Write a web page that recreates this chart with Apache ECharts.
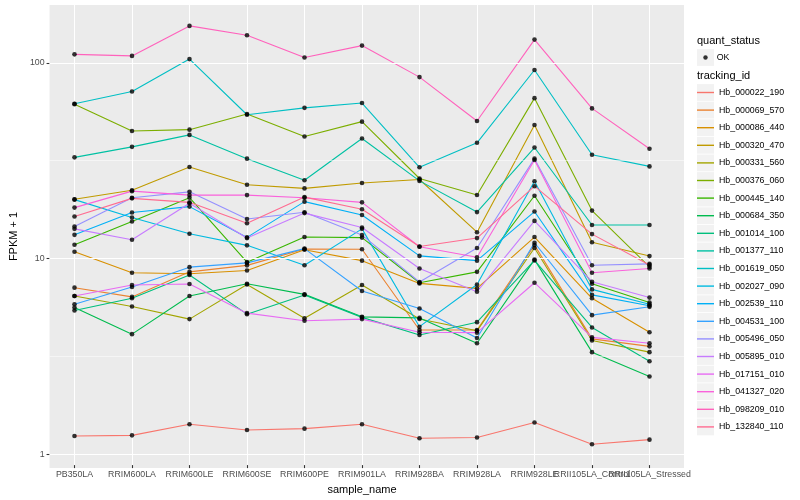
<!DOCTYPE html>
<html><head><meta charset="utf-8">
<script src="https://cdn.jsdelivr.net/npm/echarts@6/dist/echarts.min.js"></script>
<style>html,body{margin:0;padding:0;background:#fff}#c{width:800px;height:500px}</style>
</head><body><div id="c"></div>
<script>
// ---------------- data ----------------
const categories = ['PB350LA','RRIM600LA','RRIM600LE','RRIM600SE','RRIM600PE','RRIM901LA','RRIM928BA','RRIM928LA','RRIM928LE','RRII105LA_Control','RRII105LA_Stressed'];
const trackingIds = ['Hb_000022_190','Hb_000069_570','Hb_000086_440','Hb_000320_470','Hb_000331_560','Hb_000376_060','Hb_000445_140','Hb_000684_350','Hb_001014_100','Hb_001377_110','Hb_001619_050','Hb_002027_090','Hb_002539_110','Hb_004531_100','Hb_005496_050','Hb_005895_010','Hb_017151_010','Hb_041327_020','Hb_098209_010','Hb_132840_110'];
const Hb_000022_190 = [1.20, 1.21, 1.38, 1.29, 1.31, 1.38, 1.17, 1.18, 1.41, 1.09, 1.15];
const Hb_000069_570 = [6.95, 6.23, 8.38, 9.05, 10.98, 10.95, 4.21, 4.21, 11.5, 3.79, 3.47];
const Hb_000086_440 = [10.64, 8.29, 8.19, 8.51, 10.89, 9.57, 7.31, 6.89, 12.65, 6.13, 4.10];
const Hb_000320_470 = [19.8, 22.0, 29.0, 23.5, 22.5, 24.0, 25.0, 13.4, 47.7, 11.9, 10.1];
const Hb_000331_560 = [6.30, 5.56, 4.79, 7.22, 4.84, 7.17, 4.80, 4.17, 11.12, 3.72, 3.24];
const Hb_000376_060 = [61.0, 44.4, 45.1, 54.3, 41.6, 49.6, 25.3, 20.8, 65.5, 17.3, 8.9];
const Hb_000445_140 = [11.55, 15.21, 20.16, 9.40, 12.65, 12.57, 7.37, 8.38, 20.64, 7.28, 5.83];
const Hb_000684_350 = [5.49, 4.01, 6.30, 7.28, 6.42, 4.92, 4.86, 3.60, 9.69, 3.24, 2.43];
const Hb_001014_100 = [5.30, 6.13, 8.07, 5.08, 6.38, 4.89, 3.97, 4.62, 9.6, 4.34, 2.91];
const Hb_001377_110 = [32.5, 36.8, 42.4, 32.0, 24.8, 40.6, 24.6, 17.0, 36.5, 14.6, 14.6];
const Hb_001619_050 = [61.3, 70.9, 104, 53.8, 58.4, 61.8, 28.9, 38.6, 91.4, 33.5, 29.2];
const Hb_002027_090 = [19.7, 15.94, 13.15, 11.47, 9.07, 13.94, 4.38, 7.22, 24.5, 6.81, 5.71];
const Hb_002539_110 = [12.99, 16.91, 18.14, 12.60, 19.24, 16.44, 10.12, 9.57, 17.11, 6.38, 5.61];
const Hb_004531_100 = [5.71, 7.01, 8.86, 9.32, 11.03, 6.68, 5.43, 3.83, 11.83, 5.02, 5.54];
const Hb_005496_050 = [14.34, 20.16, 21.6, 15.68, 16.97, 12.95, 7.43, 11.12, 32.0, 9.07, 9.21];
const Hb_005895_010 = [13.94, 12.26, 18.86, 12.50, 16.8, 14.17, 8.72, 6.63, 15.32, 7.46, 6.18];
const Hb_017151_010 = [6.30, 7.17, 7.26, 5.14, 4.70, 4.79, 4.10, 4.08, 7.37, 3.86, 3.60];
const Hb_041327_020 = [17.93, 21.79, 20.79, 20.79, 20.16, 19.08, 11.28, 9.97, 31.5, 8.29, 8.72];
const Hb_098209_010 = [110, 108, 154, 138, 106, 122, 84, 50, 131, 58, 36];
const Hb_132840_110 = [16.13, 20.0, 19.08, 14.91, 20.3, 17.58, 11.31, 12.5, 23.1, 13.1, 9.1];
const yBreaks = [1, 10, 100];
const yTickLabels = ['1', '10', '100'];
const yMinorBreaks = [3.1623, 31.623];
const quantStatus = ['OK'];

// ---------------- styling ----------------
const seriesValues = [Hb_000022_190,Hb_000069_570,Hb_000086_440,Hb_000320_470,Hb_000331_560,Hb_000376_060,Hb_000445_140,Hb_000684_350,Hb_001014_100,Hb_001377_110,Hb_001619_050,Hb_002027_090,Hb_002539_110,Hb_004531_100,Hb_005496_050,Hb_005895_010,Hb_017151_010,Hb_041327_020,Hb_098209_010,Hb_132840_110];
const colors = ['#F8766D','#EA8331','#D89000','#C09B00','#A3A500','#7CAE00','#39B600','#00BB4E','#00BF7D','#00C1A3','#00BFC4','#00BAE0','#00B0F6','#35A2FF','#9590FF','#C77CFF','#E76BF3','#FA62DB','#FF62BC','#FF6C91'];
const FONT = '"Liberation Sans", Arial, Helvetica, sans-serif';

const panel = {left: 40, top: 5, width: 644, height: 463};
const nCat = categories.length;
const expand = 0.6;
const band = panel.width / (nCat - 1 + 2 * expand);
const dataGrid = {left: panel.left + (expand - 0.5) * band, top: panel.top, width: band * nCat, height: panel.height};

let lo = Infinity, hi = -Infinity;
seriesValues.forEach(a => a.forEach(v => { lo = Math.min(lo, Math.log10(v)); hi = Math.max(hi, Math.log10(v)); }));
const rng = hi - lo;
const yMin = Math.pow(10, lo - 0.05 * rng);
const yMax = Math.pow(10, hi + 0.05 * rng);

const legendLeft = 697, legendStep = 17.6, firstKeyY = 92.5, okKeyY = 57.5;

const chart = echarts.init(document.getElementById('c'), null, {renderer: 'canvas', width: 800, height: 500});

const lineSeries = trackingIds.map((id, i) => ({
  name: id, type: 'line', xAxisIndex: 1, yAxisIndex: 1,
  data: seriesValues[i], symbol: 'none', showSymbol: false,
  lineStyle: {width: 1.1, color: colors[i]}, itemStyle: {color: colors[i]},
  z: 3, silent: true, animation: false
}));

const pointData = [];
seriesValues.forEach(vals => vals.forEach((v, j) => pointData.push([categories[j], v])));

const keyRects = [];
keyRects.push({type: 'rect', shape: {x: legendLeft, y: okKeyY - 8.4, width: 17, height: 16.8}, style: {fill: '#F2F2F2'}, z: -1, silent: true});
trackingIds.forEach((id, i) => keyRects.push({type: 'rect', shape: {x: legendLeft, y: firstKeyY + i * legendStep - 8.4, width: 17, height: 16.8}, style: {fill: '#F2F2F2'}, z: -1, silent: true}));

const option = {
  animation: false,
  backgroundColor: '#ffffff',
  textStyle: {fontFamily: FONT},
  grid: [
    {left: panel.left, top: panel.top, width: panel.width, height: panel.height, show: true, backgroundColor: '#EBEBEB', borderWidth: 0, containLabel: false},
    {left: dataGrid.left, top: dataGrid.top, width: dataGrid.width, height: dataGrid.height, show: false, containLabel: false}
  ],
  xAxis: [
    {gridIndex: 0, type: 'value', min: 0, max: 1, show: false},
    {gridIndex: 1, type: 'category', data: categories, boundaryGap: true,
     axisLine: {show: false},
     axisTick: {show: true, alignWithLabel: true, length: 3, lineStyle: {color: '#333333', width: 1.07}},
     axisLabel: {interval: 0, margin: 5, color: '#4D4D4D', fontSize: 8.8, fontFamily: FONT},
     splitLine: {show: false},
     name: 'sample_name', nameLocation: 'middle', nameGap: 15,
     nameTextStyle: {color: '#000000', fontSize: 11, fontFamily: FONT}}
  ],
  yAxis: [
    {gridIndex: 0, type: 'log', logBase: 10, min: yMin, max: yMax,
     axisLine: {show: false},
     axisTick: {show: true, length: 3, customValues: yBreaks, lineStyle: {color: '#333333', width: 1.07}},
     axisLabel: {customValues: yBreaks, margin: 5, color: '#4D4D4D', fontSize: 8.8, fontFamily: FONT,
       formatter: v => { const k = yBreaks.findIndex(b => Math.abs(b - v) / b < 1e-6); return k >= 0 ? yTickLabels[k] : ''; }},
     splitLine: {show: false}, minorTick: {show: false}, minorSplitLine: {show: false},
     name: 'FPKM + 1', nameLocation: 'middle', nameGap: 20,
     nameTextStyle: {color: '#000000', fontSize: 11, fontFamily: FONT}},
    {gridIndex: 1, type: 'log', logBase: 10, min: yMin, max: yMax, show: false}
  ],
  legend: [
    {data: trackingIds.map(id => ({name: id})), orient: 'vertical', left: legendLeft, top: firstKeyY - legendStep / 2,
     padding: 0, itemGap: 0, itemWidth: 17, itemHeight: 1.4, icon: 'rect', selectedMode: false,
     textStyle: {fontSize: 8.8, color: '#000000', fontFamily: FONT, lineHeight: legendStep}},
    {data: quantStatus.map(s => ({name: s, icon: 'circle'})), orient: 'vertical', left: legendLeft + 8.5 - 2.2, top: okKeyY - legendStep / 2,
     padding: 0, itemGap: 0, itemWidth: 4.4, itemHeight: 4.4, selectedMode: false,
     textStyle: {fontSize: 8.8, color: '#000000', fontFamily: FONT, lineHeight: legendStep, padding: [0, 0, 0, 4]}}
  ],
  graphic: [
    ...keyRects,
    {type: 'text', left: legendLeft, top: 35, style: {text: 'quant_status', fontSize: 11, fill: '#000', fontFamily: FONT}, silent: true},
    {type: 'text', left: legendLeft, top: 70, style: {text: 'tracking_id', fontSize: 11, fill: '#000', fontFamily: FONT}, silent: true}
  ],
  series: [
    {type: 'line', name: '__hgrid', xAxisIndex: 0, yAxisIndex: 0, data: [], z: 1, silent: true,
     markLine: {silent: true, symbol: ['none', 'none'], label: {show: false}, animation: false,
       data: [
         ...yBreaks.map(b => ({yAxis: b, lineStyle: {color: '#ffffff', width: 1.07, type: 'solid'}})),
         ...yMinorBreaks.map(b => ({yAxis: b, lineStyle: {color: '#ffffff', width: 0.53, type: 'solid'}}))
       ]}},
    {type: 'line', name: '__vgrid', xAxisIndex: 1, yAxisIndex: 1, data: [], z: 1, silent: true,
     markLine: {silent: true, symbol: ['none', 'none'], label: {show: false}, animation: false,
       data: categories.map(c => ({xAxis: c, lineStyle: {color: '#ffffff', width: 1.07, type: 'solid'}}))}},
    ...lineSeries,
    {name: 'OK', type: 'scatter', xAxisIndex: 1, yAxisIndex: 1, data: pointData, symbol: 'circle', symbolSize: 4.6,
     itemStyle: {color: '#000000'}, z: 5, silent: true, animation: false}
  ]
};
chart.setOption(option);
</script>
</body></html>
